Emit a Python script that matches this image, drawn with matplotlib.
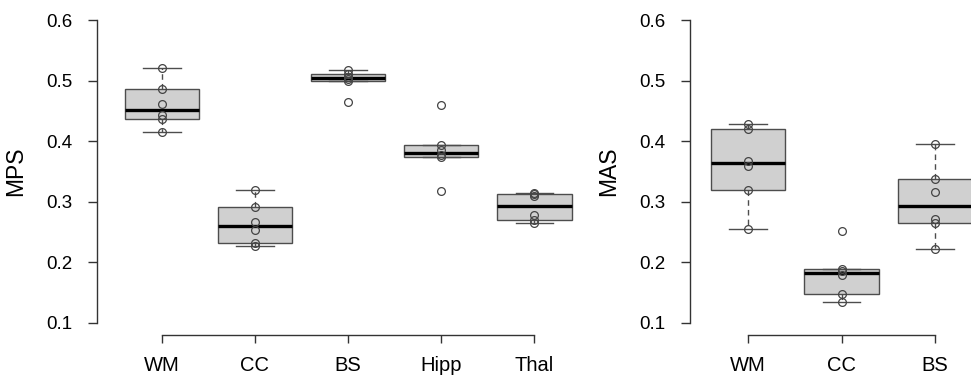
import numpy as np
import matplotlib
matplotlib.use("Agg")
import matplotlib.pyplot as plt

plt.rcParams['font.family'] = ['Liberation Sans', 'DejaVu Sans']

# ---- data ----
mps_regions = ["WM", "CC", "BS", "Hipp", "Thal"]
mps_WM = [0.520, 0.4865, 0.461, 0.4425, 0.437, 0.4155]
mps_CC = [0.319, 0.291, 0.266, 0.2525, 0.232, 0.227]
mps_BS = [0.518, 0.511, 0.506, 0.503, 0.499, 0.465]
mps_Hipp = [0.459, 0.394, 0.385, 0.377, 0.374, 0.317]
mps_Thal = [0.315, 0.312, 0.309, 0.278, 0.270, 0.264]

mas_regions = ["WM", "CC", "BS"]
mas_WM = [0.428, 0.420, 0.367, 0.359, 0.319, 0.255]
mas_CC = [0.251, 0.188, 0.185, 0.179, 0.148, 0.134]
mas_BS = [0.396, 0.338, 0.316, 0.271, 0.265, 0.221]

y_ticks = [0.1, 0.2, 0.3, 0.4, 0.5, 0.6]


def r_stats(vals, coef=1.5):
    x = np.sort(np.asarray(vals, dtype=float))
    n = len(x)
    n4 = np.floor((n + 3) / 2) / 2
    d = np.array([1, n4, (n + 1) / 2, n + 1 - n4, n]) - 1
    fn = 0.5 * (x[np.floor(d).astype(int)] + x[np.ceil(d).astype(int)])
    iqr = fn[3] - fn[1]
    lo = x[x >= fn[1] - coef * iqr].min()
    hi = x[x <= fn[3] + coef * iqr].max()
    return dict(med=fn[2], q1=fn[1], q3=fn[3], whislo=lo, whishi=hi, fliers=[])


fig = plt.figure(figsize=(9.71, 3.79), dpi=100)
ax1 = fig.add_axes([0.0996, 0.1166, 0.5178, 0.8625])
ax2 = fig.add_axes([0.7106, 0.1166, 0.3121, 0.8625])

box_face = "#D0D0D0"
edge = "#4d4d4d"
axis_col = "#333333"


def draw(ax, names, series, ylabel):
    stats = [r_stats(s) for s in series]
    pos = np.arange(1, len(names) + 1)
    ax.bxp(stats, positions=pos, widths=0.8, capwidths=0.4,
           showfliers=False, patch_artist=True,
           boxprops=dict(facecolor=box_face, edgecolor=edge, linewidth=1.0),
           medianprops=dict(color="black", linewidth=2.4, solid_capstyle="butt"),
           whiskerprops=dict(color=edge, linewidth=1.0, linestyle=(0, (4, 3))),
           capprops=dict(color=edge, linewidth=1.0))
    for p, s in zip(pos, series):
        ax.plot(np.full(len(s), p), s, linestyle="none", marker="o",
                markersize=5.6, markerfacecolor="none",
                markeredgecolor="#444444", markeredgewidth=0.9, zorder=5)
    n = len(names)
    pad = 0.04 * n
    ax.set_xlim(0.5 - pad, n + 0.5 + pad)
    ax.set_ylim(0.08, 0.62)
    ax.set_yticks(y_ticks)
    ax.set_yticklabels([f"{t:.1f}" for t in y_ticks])
    ax.set_xticks(pos)
    ax.set_xticklabels(names)
    for sp in ["top", "right"]:
        ax.spines[sp].set_visible(False)
    ax.spines["left"].set_bounds(0.1, 0.6)
    ax.spines["bottom"].set_bounds(1, n)
    for sp in ["left", "bottom"]:
        ax.spines[sp].set_color(axis_col)
        ax.spines[sp].set_linewidth(1.0)
    ax.tick_params(axis="y", length=6.5, width=1.0, color=axis_col,
                   labelsize=13.5, pad=11)
    ax.tick_params(axis="x", length=6, width=1.0, color=axis_col,
                   labelsize=14.5, pad=9)
    ax.set_ylabel(ylabel, fontsize=16.5)
    ax.yaxis.set_label_coords(-70 / (ax.get_position().width * 971), 0.5)


draw(ax1, mps_regions, [mps_WM, mps_CC, mps_BS, mps_Hipp, mps_Thal], "MPS")
draw(ax2, mas_regions, [mas_WM, mas_CC, mas_BS], "MAS")

fig.savefig("out.png", dpi=100)
